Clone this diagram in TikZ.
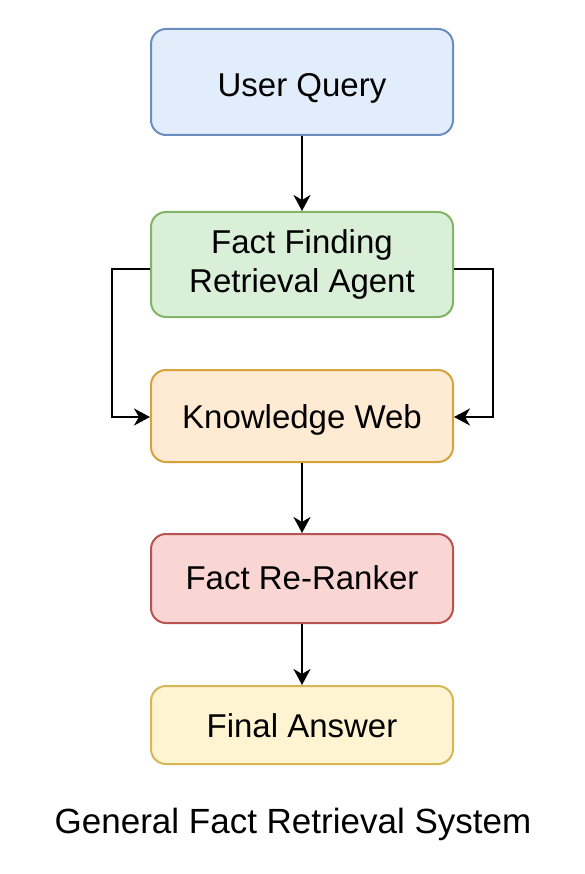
\documentclass[tikz,border=0pt]{standalone}
\usepackage{fontspec}
\setmainfont{Liberation Sans}
\usetikzlibrary{arrows.meta}

\definecolor{queryfill}{HTML}{E2EDFC}
\definecolor{querydraw}{HTML}{6C8EBF}
\definecolor{agentfill}{HTML}{D9EFD8}
\definecolor{agentdraw}{HTML}{82B366}
\definecolor{webfill}{HTML}{FFEBD4}
\definecolor{webdraw}{HTML}{D6A33A}
\definecolor{rankfill}{HTML}{F9D5D4}
\definecolor{rankdraw}{HTML}{B85450}
\definecolor{answerfill}{HTML}{FFF4D1}
\definecolor{answerdraw}{HTML}{D6B656}

\tikzset{
    box/.style={draw, line width=2pt, rounded corners=15pt, minimum width=302pt,
        align=center, font=\fontsize{33}{39}\selectfont, inner sep=0pt},
    oneline/.style={text height=#1, text depth=0pt},
    flow/.style={-{Stealth[length=16pt,width=17pt,inset=5pt]}, line width=2.2pt}
}

\begin{document}
\begin{tikzpicture}[x=1pt,y=-1pt]
    % 固定画布大小
    \useasboundingbox (0,0) rectangle (584,874);

    % 绘制各个模块
    \node[box, oneline=29pt, fill=queryfill, draw=querydraw, minimum height=106pt] (query) at (302,82) {User Query};
    \node[box, fill=agentfill, draw=agentdraw, minimum height=105pt] (agent) at (302,264.5) {Fact Finding\\Retrieval Agent};
    \node[box, oneline=24pt, fill=webfill, draw=webdraw, minimum height=92pt] (web) at (302,416) {Knowledge Web};
    \node[box, oneline=22pt, fill=rankfill, draw=rankdraw, minimum height=89pt] (rank) at (302,578.5) {Fact Re-Ranker};
    \node[box, oneline=24pt, fill=answerfill, draw=answerdraw, minimum height=78pt] (answer) at (302,725) {Final Answer};

    % 标题
    \node[font=\fontsize{35}{40}\selectfont] (title) at (293,824) {General Fact Retrieval System};

    % 竖直箭头
    \draw[flow] (query) -- (agent);
    \draw[flow] (web) -- (rank);
    \draw[flow] (rank) -- (answer);

    % 两侧折线箭头
    \draw[flow] (agent.west |- 0,269) -- (112,269) -- (112,417) -- (web.west |- 0,417);
    \draw[flow] (agent.east |- 0,269) -- (493,269) -- (493,417) -- (web.east |- 0,417);
\end{tikzpicture}
\end{document}
